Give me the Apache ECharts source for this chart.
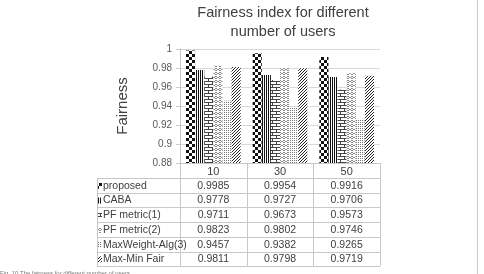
<!DOCTYPE html>
<html>
<head>
<meta charset="utf-8">
<script src="https://cdn.jsdelivr.net/npm/echarts@6/dist/echarts.min.js"></script>
<style>
html, body { margin: 0; padding: 0; background: #fff; }
#chart { width: 484px; height: 274px; }
</style>
</head>
<body>
<div id="chart"></div>
<script>
var categories = ['10', '30', '50'];
var seriesNames = ['proposed', 'CABA', 'PF metric(1)', 'PF metric(2)', 'MaxWeight-Alg(3)', 'Max-Min Fair'];
var proposed = [0.9985, 0.9954, 0.9916];
var caba = [0.9778, 0.9727, 0.9706];
var pfMetric1 = [0.9711, 0.9673, 0.9573];
var pfMetric2 = [0.9823, 0.9802, 0.9746];
var maxWeight = [0.9457, 0.9382, 0.9265];
var maxMinFair = [0.9811, 0.9798, 0.9719];
var allValues = [proposed, caba, pfMetric1, pfMetric2, maxWeight, maxMinFair];

var FONT = 'Liberation Sans';
var GRID_L = 180, GRID_R = 380, GRID_T = 49, GRID_B = 163;
var ROW_TOP = 178, ROW_H = 14.7, TABLE_L = 97;
var LINE = '#c8c8c8';

// small canvas fills standing in for the Excel bar patterns
function pattern(w, h, draw) {
  var c = document.createElement('canvas');
  c.width = w; c.height = h;
  var g = c.getContext('2d');
  g.fillStyle = '#fff';
  g.fillRect(0, 0, w, h);
  draw(g);
  return { image: c, repeat: 'repeat' };
}
var fills = [
  pattern(6, 6, function (g) { g.fillStyle = '#111'; g.fillRect(0, 0, 3, 3); g.fillRect(3, 3, 3, 3); }),
  pattern(2, 1, function (g) { g.fillStyle = '#111'; g.fillRect(0, 0, 1, 1); }),
  pattern(8, 6, function (g) {
    g.fillStyle = '#444';
    g.fillRect(0, 0, 8, 1); g.fillRect(0, 3, 8, 1);
    g.fillRect(0, 0, 1, 3); g.fillRect(4, 3, 1, 3);
  }),
  pattern(4, 4, function (g) {
    g.fillStyle = '#8a8a8a';
    g.fillRect(0, 2, 1, 1); g.fillRect(1, 1, 1, 1); g.fillRect(2, 1, 1, 1); g.fillRect(3, 2, 1, 1);
    g.fillRect(0, 0, 1, 1); g.fillRect(3, 0, 1, 1);
  }),
  pattern(2, 2, function (g) { g.fillStyle = '#777'; g.fillRect(0, 0, 1, 1); }),
  pattern(3, 3, function (g) {
    g.fillStyle = '#222';
    g.fillRect(2, 0, 1, 1); g.fillRect(1, 1, 1, 1); g.fillRect(0, 2, 1, 1);
  })
];

var series = seriesNames.map(function (name, i) {
  return {
    name: name,
    type: 'bar',
    data: allValues[i],
    barGap: '0%',
    barCategoryGap: '18%',
    itemStyle: { color: fills[i] }
  };
});

// data table under the plot
var graphics = [];
function hline(x1, x2, y) {
  graphics.push({ type: 'line', shape: { x1: x1, y1: y, x2: x2, y2: y }, style: { stroke: LINE, lineWidth: 1 }, silent: true });
}
function vline(x, y1, y2) {
  graphics.push({ type: 'line', shape: { x1: x, y1: y1, x2: x, y2: y2 }, style: { stroke: LINE, lineWidth: 1 }, silent: true });
}
var colW = (GRID_R - GRID_L) / categories.length;
var tableBottom = ROW_TOP + ROW_H * seriesNames.length;
for (var r = 0; r <= seriesNames.length; r++) {
  hline(TABLE_L, GRID_R, Math.round(ROW_TOP + r * ROW_H) + 0.5);
}
vline(TABLE_L + 0.5, ROW_TOP, tableBottom);
for (var c = 0; c <= categories.length; c++) {
  vline(Math.round(GRID_L + c * colW) + 0.5, GRID_B, tableBottom);
}
seriesNames.forEach(function (name, i) {
  var cy = ROW_TOP + (i + 0.5) * ROW_H + 0.5;
  graphics.push({ type: 'rect', shape: { x: 98, y: cy - 3, width: 4, height: 6 }, style: { fill: fills[i] }, silent: true });
  graphics.push({ type: 'text', x: 103, y: cy, style: { text: name, fontSize: 10.5, fontFamily: FONT, fill: '#404040', verticalAlign: 'middle', align: 'left' }, silent: true });
  allValues[i].forEach(function (v, j) {
    graphics.push({ type: 'text', x: GRID_L + (j + 0.5) * colW, y: cy, style: { text: v.toFixed(4), fontSize: 10.5, fontFamily: FONT, fill: '#404040', verticalAlign: 'middle', align: 'center' }, silent: true });
  });
});
// chart title, centred over the plot area
graphics.push({ type: 'text', x: 283, y: 13, style: { text: 'Fairness index for different', fontSize: 14.5, fontFamily: FONT, fill: '#404040', align: 'center', verticalAlign: 'middle' }, silent: true });
graphics.push({ type: 'text', x: 283, y: 32, style: { text: 'number of users', fontSize: 14.5, fontFamily: FONT, fill: '#404040', align: 'center', verticalAlign: 'middle' }, silent: true });
vline(477.5, 0, 274);
graphics.push({ type: 'text', x: 0, y: 270, style: { text: 'Fig. 10 The fairness for different number of users', fontSize: 6, fontFamily: FONT, fill: '#777', verticalAlign: 'top' }, silent: true });

var chart = echarts.init(document.getElementById('chart'));
chart.setOption({
  animation: false,
  backgroundColor: '#fff',
  grid: { left: GRID_L, right: 484 - GRID_R, top: GRID_T, bottom: 274 - GRID_B, containLabel: false },
  xAxis: {
    type: 'category',
    data: categories,
    axisLine: { lineStyle: { color: LINE } },
    axisTick: { show: false },
    axisLabel: { fontSize: 11, color: '#404040', fontFamily: FONT, margin: 3 }
  },
  yAxis: {
    type: 'value',
    min: 0.88,
    max: 1,
    interval: 0.02,
    name: 'Fairness',
    nameLocation: 'middle',
    nameGap: 50,
    nameTextStyle: { fontSize: 15, color: '#404040', fontFamily: FONT },
    axisLine: { show: true, lineStyle: { color: LINE } },
    axisTick: { show: true, length: 4, lineStyle: { color: LINE } },
    axisLabel: { fontSize: 10, color: '#595959', fontFamily: FONT, margin: 8 },
    splitLine: { lineStyle: { color: '#d9d9d9' } }
  },
  series: series,
  graphic: graphics
});
</script>
</body>
</html>
